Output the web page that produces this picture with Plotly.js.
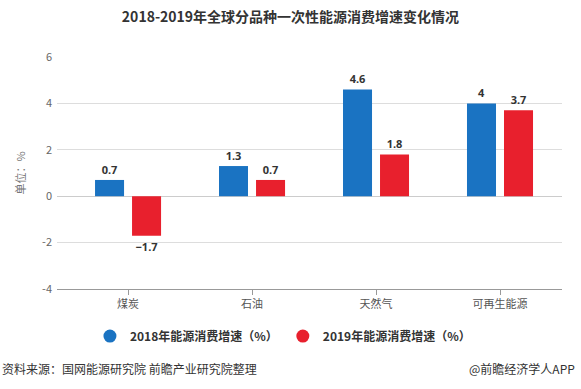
<!DOCTYPE html>
<html>
<head>
<meta charset="utf-8">
<script src="https://cdn.plot.ly/plotly-3.0.1.min.js"></script>
<style>html,body{margin:0;padding:0;background:#fff;}#chart{width:581px;height:389px;}</style>
</head>
<body>
<div id="chart"></div>
<script>
var categories = ['煤炭', '石油', '天然气', '可再生能源'];
var series2018 = [0.7, 1.3, 4.6, 4];
var series2019 = [-1.7, 0.7, 1.8, 3.7];
var name2018 = '2018年能源消费增速（%）';
var name2019 = '2019年能源消费增速（%）';
var yTicks = [-4, -2, 0, 2, 4, 6];
var yTickText = ['-4', '-2', '0', '2', '4', '6'];
var color2018 = '#1a73c2';
var color2019 = '#e8202d';

var labelFont = {family: 'Open Sans, Noto Sans CJK SC, sans-serif', size: 11, color: '#333', weight: 'bold'};

var traces = [
  {type: 'bar', name: name2018, x: categories, y: series2018, showlegend: false,
   marker: {color: color2018}, texttemplate: '<b>%{y}</b>', textposition: 'outside',
   textfont: labelFont, cliponaxis: false},
  {type: 'bar', name: name2019, x: categories, y: series2019, showlegend: false,
   marker: {color: color2019}, texttemplate: '<b>%{y}</b>', textposition: 'outside',
   textfont: labelFont, cliponaxis: false},
  {type: 'scatter', mode: 'markers', name: name2018, x: [null], y: [null],
   marker: {color: color2018, size: 13, symbol: 'circle'}},
  {type: 'scatter', mode: 'markers', name: name2019, x: [null], y: [null],
   marker: {color: color2019, size: 13, symbol: 'circle'}}
];

var layout = {
  width: 581, height: 389,
  margin: {l: 57, r: 19, t: 57, b: 100},
  paper_bgcolor: '#fff', plot_bgcolor: '#fff',
  font: {family: 'Noto Sans CJK SC, sans-serif', color: '#555', size: 11},
  title: {text: '<b>2018-2019年全球分品种一次性能源消费增速变化情况</b>',
          font: {family: 'Noto Sans CJK SC, sans-serif', size: 14, color: '#333'},
          x: 0.5, xanchor: 'center', y: 0.955, yanchor: 'middle', xref: 'container', yref: 'container'},
  barmode: 'group', bargap: 0.403, bargroupgap: 0.216,
  xaxis: {type: 'category', range: [-0.573, 3.5], showgrid: false, zeroline: false,
          showline: true, linecolor: '#999', linewidth: 1,
          ticks: 'outside', ticklen: 5, tickcolor: '#999',
          tickfont: {size: 11, color: '#555'}, fixedrange: true},
  yaxis: {range: [-4, 6], tickvals: yTicks, ticktext: yTickText, showgrid: true, gridcolor: '#ddd', gridwidth: 1,
          zeroline: true, zerolinecolor: '#ccc', zerolinewidth: 1,
          tickfont: {size: 11, color: '#666'}, ticklabelstandoff: 4,
          title: {text: '单位：%', font: {size: 11, color: '#777'}, standoff: 14}},
  showlegend: true,
  legend: {orientation: 'h', xref: 'container', yref: 'container', x: 0.487, xanchor: 'center',
           y: 0.136, yanchor: 'middle', font: {size: 12, color: '#333', weight: 'bold'},
           itemwidth: 30, traceorder: 'normal'},
  annotations: [
    {text: '资料来源：国网能源研究院 前瞻产业研究院整理', xref: 'paper', yref: 'paper',
     x: -57/505, y: -79/232, xanchor: 'left', yanchor: 'middle', showarrow: false,
     font: {size: 12, color: '#333'}},
    {text: '@前瞻经济学人APP', xref: 'paper', yref: 'paper',
     x: 1 + 15/505, y: -79/232, xanchor: 'right', yanchor: 'middle', showarrow: false,
     font: {size: 12, color: '#333'}}
  ]
};

Plotly.newPlot('chart', traces, layout, {displayModeBar: false, staticPlot: true});
</script>
</body>
</html>
